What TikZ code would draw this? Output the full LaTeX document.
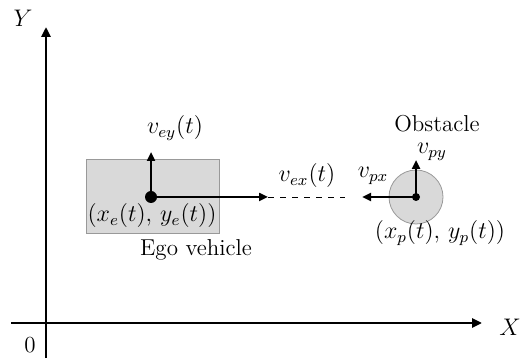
\documentclass[tikz,border=0pt]{standalone}
\usetikzlibrary{arrows.meta}
\begin{document}
\begin{tikzpicture}[x=0.5pt,y=0.5pt,font=\fontsize{11.5}{13}\selectfont,
    axis/.style={line width=1.4pt,-{Triangle[length=5pt,width=4.5pt]}},
    vel/.style={line width=1.4pt,-{Triangle[length=4.5pt,width=4pt]}}]
    \useasboundingbox (0,0) rectangle (528,363);
    \coordinate (O) at (46,40);
    \coordinate (Ybot) at (46,5);
    \coordinate (Ytop) at (46,336);
    \coordinate (Xleft) at (11,40);
    \coordinate (Xright) at (482,40);
    \draw[axis] (Ybot) -- (Ytop);
    \draw[axis] (Xleft) -- (Xright);
    \node (ylab) at (23,345) {$Y$};
    \node (xlab) at (510,36) {$X$};
    \node (zero) at (30,18) {0};
    % ego vehicle
    \draw[fill=gray!30,draw=gray!80] (86,130) rectangle (219,204);
    \coordinate (E) at (151,166);
    \coordinate (Eup) at (151,211);
    \coordinate (Eright) at (268,166);
    \coordinate (Edash) at (345,166);
    \draw[vel] (E) -- (Eup);
    \draw[vel] (E) -- (Eright);
    \draw[dashed,thin] (Eright) -- (Edash);
    \fill (E) circle (6);
    \node (vey) at (175,235) {$v_{ey}(t)$};
    \node (vex) at (307,187) {$v_{ex}(t)$};
    \node (xe) at (152,147) {$(x_e(t),\,y_e(t))$};
    \node (ego) at (196,113) {Ego vehicle};
    % obstacle
    \coordinate (P) at (416,166);
    \coordinate (Pleft) at (362,166);
    \coordinate (Pup) at (416,203);
    \draw[fill=gray!30,draw=gray!80] (P) circle (27);
    \draw[vel] (P) -- (Pleft);
    \draw[vel] (P) -- (Pup);
    \fill (P) circle (4);
    \node (vpx) at (373,187) {$v_{px}$};
    \node (vpy) at (432,211) {$v_{py}$};
    \node (obs) at (437,239) {Obstacle};
    \node (xp) at (440,130) {$(x_p(t),\,y_p(t))$};
\end{tikzpicture}
\end{document}
